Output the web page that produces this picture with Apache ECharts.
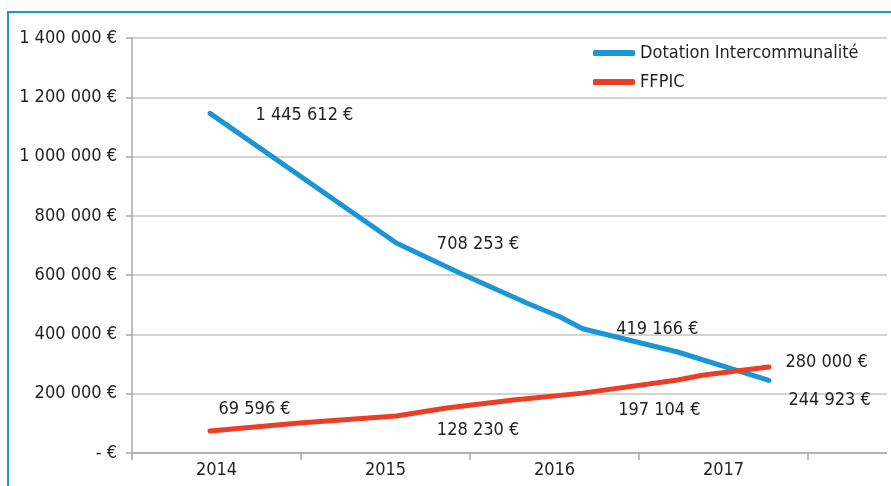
<!DOCTYPE html>
<html>
<head>
<meta charset="utf-8">
<script src="https://cdn.jsdelivr.net/npm/echarts@6/dist/echarts.min.js"></script>
<style>
  html, body { margin: 0; padding: 0; background: #fff; }
  #main { width: 891px; height: 486px; }
</style>
</head>
<body>
<div id="main"></div>
<script>
// categories on the x axis (last slot is empty, the chart is cut on the right)
var years = ['2014', '2015', '2016', '2017', ''];

// y tick labels, one per 200 000 step
var yTickLabels = ['- €', '200 000 €', '400 000 €', '600 000 €', '800 000 €',
    '1 000 000 €', '1 200 000 €', '1 400 000 €'];

// Dotation Intercommunalité : time (in years) and value
var dotationTime = [2014, 2015, 2015.34, 2015.7, 2015.88, 2016, 2016.51, 2017];
var dotationValues = [1145612, 708253, 607000, 506000, 458800, 419166, 340700, 244923];
var dotationLabels = ['1 445 612 €', '708 253 €', '419 166 €', '244 923 €'];

// FFPIC
var ffpicTime = [2014, 2014.48, 2015, 2015.27, 2015.63, 2016, 2016.51, 2016.65, 2017];
var ffpicValues = [74000, 101000, 125000, 152000, 179000, 202000, 246000, 263000, 290000];
var ffpicLabels = ['69 596 €', '128 230 €', '197 104 €', '280 000 €'];

var FONT = '"Liberation Sans Narrow", "DejaVu Sans Condensed", sans-serif';
var FONT_SIZE = 18;
var TEXT_COLOR = '#231f20';
var BLUE = '#1a96d6';
var RED = '#ec3d26';

/**
 * build the points of a line, labels only on the yearly points
 */
function buildPoints (times, values, labels, offsets) {
    var res = [];
    var k = 0;
    for (var i = 0; i < times.length; i++) {
        var item = { value: [times[i], values[i]] };
        if (times[i] % 1 === 0 && k < labels.length) {
            item.label = {
                show: true,
                position: 'right',
                distance: 0,
                offset: offsets[k],
                formatter: labels[k]
            };
            k++;
        }
        res.push(item);
    }
    return res;
}

var chart = echarts.init(document.getElementById('main'));

var option = {
    animation: false,
    backgroundColor: '#fff',
    textStyle: { fontFamily: FONT },
    graphic: [{
        // frame of the original picture
        type: 'rect',
        shape: { x: 8, y: 12, width: 1200, height: 1200 },
        style: { fill: 'none', stroke: BLUE, lineWidth: 2 },
        silent: true
    }, {
        // gridlines stop a few pixels before the right edge
        type: 'rect',
        shape: { x: 887, y: 20, width: 10, height: 450 },
        style: { fill: '#fff' },
        z: 100,
        silent: true
    }],
    legend: {
        orient: 'vertical',
        left: 593,
        top: 42,
        padding: 0,
        itemWidth: 42,
        itemHeight: 6,
        itemGap: 7,
        icon: 'roundRect',
        textStyle: {
            fontFamily: FONT,
            fontSize: FONT_SIZE,
            lineHeight: 22,
            color: TEXT_COLOR
        },
        data: ['Dotation Intercommunalité', 'FFPIC']
    },
    grid: {
        left: 132,
        top: 38,
        width: 845,
        height: 415,
        outerBoundsMode: 'none'
    },
    xAxis: [{
        type: 'category',
        data: years,
        boundaryGap: true,
        axisLine: { lineStyle: { color: '#a8a8a8', width: 1.5 } },
        axisTick: { show: true, length: 7, lineStyle: { color: '#a8a8a8', width: 1.5 } },
        axisLabel: {
            color: TEXT_COLOR,
            fontFamily: FONT,
            fontSize: FONT_SIZE,
            margin: 8
        },
        splitLine: { show: false }
    }, {
        type: 'value',
        show: false,
        min: 2013.581,
        max: 2018.117
    }],
    yAxis: {
        type: 'value',
        min: 0,
        max: 1400000,
        interval: 200000,
        axisLine: { show: true, lineStyle: { color: '#a8a8a8', width: 1.5 } },
        axisTick: { show: true, length: 6, lineStyle: { color: '#a8a8a8', width: 1.5 } },
        axisLabel: {
            color: TEXT_COLOR,
            fontFamily: FONT,
            fontSize: FONT_SIZE,
            margin: 15,
            formatter: function (value) {
                return yTickLabels[Math.round(value / 200000)];
            }
        },
        splitLine: { lineStyle: { color: '#c4c4c4', width: 1.5 } }
    },
    series: [
        {
            name: 'Dotation Intercommunalité',
            type: 'line',
            xAxisIndex: 1,
            symbol: 'circle',
            symbolSize: 1,
            color: BLUE,
            lineStyle: { width: 5, color: BLUE, cap: 'round', join: 'round' },
            label: { color: TEXT_COLOR, fontFamily: FONT, fontSize: FONT_SIZE },
            data: buildPoints(dotationTime, dotationValues, dotationLabels,
                [[45, 2], [40, 1], [33, 1], [19, 20]])
        },
        {
            name: 'FFPIC',
            type: 'line',
            xAxisIndex: 1,
            symbol: 'circle',
            symbolSize: 1,
            color: RED,
            lineStyle: { width: 5, color: RED, cap: 'round', join: 'round' },
            label: { color: TEXT_COLOR, fontFamily: FONT, fontSize: FONT_SIZE },
            data: buildPoints(ffpicTime, ffpicValues, ffpicLabels,
                [[8, -22], [40, 14], [35, 17], [16, -5]])
        }
    ]
};

chart.setOption(option);
</script>
</body>
</html>
